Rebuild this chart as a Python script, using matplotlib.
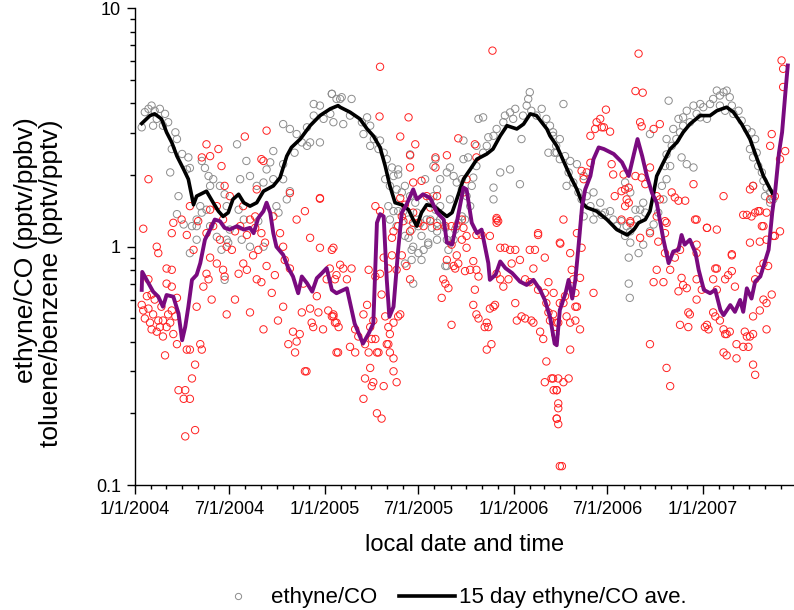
import numpy as np
import pandas as pd
import matplotlib
matplotlib.use("Agg")
import matplotlib.pyplot as plt
import matplotlib.dates as mdates
from matplotlib.ticker import FixedLocator, FuncFormatter, NullFormatter, LogLocator
from matplotlib.lines import Line2D

plt.rcParams['font.family'] = ['Liberation Sans', 'DejaVu Sans']

START = "2004-01-01"

# 15 day ethyne/CO average: (days since START, ratio)
ethyne_avg = [
    (13, 3.29), (29, 3.55), (38, 3.61), (51, 3.44), (61, 3.02), (71, 2.74), (81, 2.40), (94, 2.11),
    (103, 1.92), (113, 1.50), (119, 1.63), (138, 1.71), (151, 1.53), (161, 1.41), (170, 1.34),
    (180, 1.39), (189, 1.58), (200, 1.66), (210, 1.53), (222, 1.48), (235, 1.53), (248, 1.71),
    (267, 1.80), (280, 1.95), (293, 2.40), (302, 2.61), (319, 2.83), (338, 3.22), (357, 3.55),
    (377, 3.79), (392, 3.91), (396, 3.85), (415, 3.67), (434, 3.44), (448, 3.12), (460, 2.92),
    (473, 2.61), (483, 2.18), (492, 1.80), (502, 1.53), (515, 1.50), (528, 1.43), (537, 1.30),
    (544, 1.22), (553, 1.39), (563, 1.50), (576, 1.48), (589, 1.41), (602, 1.34), (612, 1.39),
    (621, 1.58), (634, 1.92), (647, 2.11), (660, 2.33), (679, 2.45), (691, 2.57), (705, 2.92),
    (718, 3.22), (737, 3.12), (750, 3.27), (763, 3.61), (775, 3.55), (795, 3.12), (801, 2.92),
    (814, 2.65), (820, 2.48), (840, 1.98), (853, 1.74), (863, 1.53), (872, 1.46), (891, 1.41),
    (911, 1.30), (930, 1.18), (950, 1.12), (963, 1.18), (972, 1.26), (985, 1.30), (994, 1.41),
    (1001, 1.68), (1007, 1.98), (1020, 2.26), (1033, 2.57), (1046, 2.74), (1058, 3.02),
    (1071, 3.27), (1091, 3.55), (1110, 3.55), (1123, 3.72), (1142, 3.85), (1155, 3.67),
    (1171, 3.27), (1187, 2.83), (1201, 2.33), (1213, 1.98), (1230, 1.68),
]

# 15 day toluene/benzene average (purple)
toluene_avg = [
    (13, 0.659), (14, 0.784), (26, 0.703), (35, 0.648), (45, 0.617), (54, 0.560), (61, 0.627),
    (74, 0.617), (84, 0.525), (91, 0.405), (97, 0.461), (103, 0.560), (110, 0.726), (119, 0.762),
    (126, 0.853), (135, 1.07), (145, 1.18), (154, 1.30), (164, 1.28), (173, 1.20), (183, 1.18),
    (197, 1.22), (210, 1.18), (222, 1.20), (229, 1.14), (238, 1.32), (248, 1.41), (254, 1.53),
    (261, 1.39), (267, 1.14), (273, 1.00), (286, 0.925), (296, 0.813), (305, 0.75), (315, 0.638),
    (322, 0.75), (332, 0.703), (342, 0.648), (351, 0.738), (361, 0.775), (370, 0.813),
    (380, 0.659), (389, 0.638), (409, 0.669), (424, 0.476), (440, 0.392), (451, 0.432),
    (460, 0.476), (467, 1.26), (473, 1.37), (480, 1.34), (486, 0.726), (491, 0.508), (499, 0.560),
    (508, 0.971), (515, 1.39), (524, 1.50), (537, 1.74), (544, 1.58), (556, 1.66), (570, 1.60),
    (583, 1.39), (596, 1.30), (602, 1.04), (612, 1.02), (621, 1.26), (634, 1.77), (640, 1.74),
    (650, 1.26), (660, 1.14), (669, 1.18), (682, 0.853), (685, 0.726), (696, 0.762), (705, 0.867),
    (715, 0.813), (728, 0.775), (743, 0.714), (756, 0.691), (769, 0.726), (782, 0.659),
    (791, 0.598), (801, 0.508), (810, 0.392), (814, 0.386), (820, 0.542), (831, 0.638),
    (837, 0.726), (844, 0.606), (850, 0.726), (856, 1.00), (863, 1.48), (869, 1.74), (879, 1.98),
    (885, 2.33), (895, 2.61), (905, 2.57), (924, 2.45), (940, 2.26), (953, 1.98), (963, 2.45),
    (970, 2.83), (979, 2.40), (988, 1.98), (998, 1.68), (1007, 1.53), (1020, 1.07), (1030, 0.853),
    (1039, 0.955), (1049, 0.971), (1055, 1.12), (1061, 1.02), (1071, 1.07), (1082, 0.94),
    (1088, 0.80), (1098, 0.659), (1110, 0.638), (1120, 0.659), (1130, 0.542), (1136, 0.516),
    (1149, 0.569), (1158, 0.533), (1168, 0.598), (1174, 0.533), (1181, 0.669), (1190, 0.606),
    (1197, 0.714), (1207, 0.75), (1214, 0.84), (1223, 0.971), (1230, 1.39), (1236, 1.74),
    (1243, 2.48), (1249, 3.02), (1256, 4.60), (1260, 5.76),
]

# individual ethyne/CO ratios (gray circles)
ethyne_pts = [
    (13, 3.17), (19, 3.67), (26, 3.79), (32, 3.91), (38, 3.72), (48, 3.79), (58, 3.61), (64, 3.33),
    (54, 3.22), (35, 3.22), (42, 3.44), (78, 3.02), (81, 2.83), (71, 2.57), (91, 2.45), (103, 2.37),
    (100, 2.11), (106, 2.14), (129, 2.29), (135, 2.14), (142, 1.98), (68, 2.05), (84, 1.63),
    (81, 1.37), (94, 1.24), (110, 1.22), (106, 0.94), (145, 1.80), (126, 1.48), (138, 1.43),
    (151, 1.92), (164, 1.80), (173, 1.66), (177, 1.48), (197, 2.69), (215, 2.29), (203, 1.92),
    (222, 1.98), (235, 1.80), (248, 1.86), (254, 2.11), (261, 2.26), (267, 1.92), (286, 1.92),
    (267, 2.52), (286, 3.27), (299, 3.12), (312, 2.97), (322, 2.74), (332, 2.65), (308, 2.48),
    (332, 3.17), (345, 3.55), (345, 3.97), (357, 3.91), (364, 3.44), (380, 4.38), (396, 4.17),
    (338, 2.74), (357, 2.74), (286, 2.22), (299, 1.71), (273, 1.48), (238, 1.28), (248, 1.00),
    (222, 1.00), (206, 1.07), (183, 1.18), (180, 1.04), (167, 0.971), (173, 0.726), (158, 1.10),
    (145, 1.22), (129, 1.39), (119, 1.30), (119, 1.07), (200, 1.43), (210, 1.30), (293, 1.58),
    (277, 1.39), (177, 1.07), (119, 1.22),
    (380, 4.38), (389, 4.17), (399, 4.24), (418, 4.17), (377, 3.61), (383, 3.33), (402, 3.27),
    (415, 3.55), (438, 3.33), (448, 3.49), (454, 3.22), (441, 2.97), (461, 2.83), (473, 2.79),
    (470, 2.57), (454, 2.65), (480, 2.48), (486, 2.33), (496, 2.15), (508, 2.11), (499, 1.98),
    (483, 1.92), (492, 1.80), (505, 1.74), (515, 1.69), (489, 1.48), (499, 1.41), (508, 1.41),
    (492, 1.30), (505, 1.22), (528, 1.30), (521, 1.11), (534, 1.18), (547, 1.22), (553, 1.11),
    (537, 1.00), (547, 0.94), (534, 0.88), (521, 0.85), (557, 0.97), (566, 1.02), (537, 0.70),
    (563, 1.30), (580, 1.43), (589, 1.30), (573, 1.20), (583, 1.16), (599, 1.20), (602, 1.07),
    (605, 0.97), (599, 0.83), (615, 1.07), (618, 1.18), (624, 1.26), (631, 1.34), (637, 1.30),
    (647, 1.48), (640, 1.63), (631, 1.74), (621, 1.86), (615, 1.98), (608, 2.15), (602, 2.05),
    (589, 1.92), (583, 1.74), (576, 1.63), (570, 1.58), (560, 1.92), (576, 2.18), (580, 2.33),
    (531, 2.44), (508, 2.01), (521, 1.80), (531, 1.63), (541, 1.53), (544, 1.39), (518, 1.41),
    (650, 1.80), (653, 1.95), (659, 2.18), (672, 2.48), (679, 2.65), (682, 2.88), (692, 2.92),
    (698, 3.12), (692, 1.77), (705, 2.05), (724, 2.11), (743, 1.83), (711, 3.33), (714, 3.55),
    (724, 3.66), (734, 3.79), (730, 3.44), (746, 2.83), (749, 3.55), (756, 3.91), (759, 4.17),
    (762, 4.45), (765, 3.72), (775, 3.55), (785, 3.79), (794, 3.44), (801, 3.22), (807, 2.92),
    (813, 2.65), (798, 2.48), (810, 2.48), (820, 2.33), (663, 3.44), (672, 3.49), (634, 2.79),
    (659, 2.65), (643, 2.37), (634, 2.33), (631, 1.92), (608, 1.58), (589, 1.48), (583, 1.26),
    (583, 1.07), (570, 1.30), (551, 1.26), (602, 0.83), (528, 1.09), (534, 0.97), (553, 0.88),
    (566, 1.04), (692, 1.58),
    (807, 3.02), (820, 2.83), (827, 3.97), (814, 2.48), (830, 2.40), (840, 2.29), (853, 2.22),
    (837, 2.05), (846, 1.86), (866, 1.98), (833, 1.80), (856, 1.69), (862, 1.58), (872, 1.63),
    (885, 1.69), (879, 1.48), (891, 1.39), (901, 1.36), (885, 1.30), (866, 1.34), (898, 1.53),
    (907, 1.39), (917, 1.41), (923, 1.30), (930, 1.22), (939, 1.28), (949, 1.22), (946, 1.11),
    (956, 1.16), (962, 1.22), (969, 1.30), (975, 1.43), (985, 1.39), (966, 1.43), (981, 1.53),
    (956, 1.04), (953, 0.90), (972, 0.94), (981, 1.02), (994, 1.16), (1001, 1.24), (1010, 1.39),
    (1020, 1.58), (1017, 1.80), (1026, 1.92), (1023, 2.18), (1033, 2.18), (1026, 2.44),
    (1036, 2.65), (1045, 2.83), (1052, 3.02), (1039, 3.12), (1049, 3.44), (1058, 3.49),
    (1065, 3.72), (1058, 3.22), (1071, 3.33), (1084, 3.61), (1091, 3.97), (1097, 3.85),
    (1110, 3.97), (1116, 4.17), (1123, 4.52), (1129, 4.31), (1136, 4.45), (1142, 4.52),
    (1148, 4.24), (1129, 3.91), (1139, 3.72), (1152, 3.91), (1155, 3.61), (1165, 3.72),
    (1171, 3.38), (1181, 3.12), (1190, 3.02), (1197, 2.83), (1187, 2.57), (1200, 2.48),
    (1193, 2.37), (1203, 2.18), (1210, 2.05), (1213, 1.89), (1219, 1.77), (1226, 1.69),
    (1216, 1.63), (1226, 1.53), (1232, 1.58), (1193, 1.80), (1065, 2.22), (1078, 2.15),
    (1055, 2.37), (946, 1.86), (956, 1.69), (953, 0.70), (955, 0.61), (1030, 4.10), (1078, 3.91),
    (1091, 3.49), (1104, 3.44), (1026, 2.83), (994, 2.97),
]

# individual toluene/benzene ratios (red circles)
toluene_pts = [
    (16, 1.19), (26, 0.73), (13, 0.57), (16, 0.54), (19, 0.50), (23, 0.62), (32, 0.63), (29, 0.48),
    (32, 0.45), (42, 0.44), (48, 0.46), (45, 0.49), (35, 0.52), (26, 0.55), (38, 0.60), (51, 0.56),
    (54, 0.49), (61, 0.46), (54, 0.42), (58, 0.35), (68, 0.48), (64, 0.52), (71, 0.54), (74, 0.43),
    (81, 0.39), (78, 0.51), (71, 0.68), (61, 0.70), (42, 1.00), (45, 0.94), (61, 0.81), (71, 0.80),
    (81, 0.61), (84, 0.25), (94, 0.23), (97, 0.25), (106, 0.23), (116, 0.17), (97, 0.16),
    (110, 0.28), (116, 0.32), (100, 0.37), (106, 0.37), (126, 0.39), (129, 0.37), (119, 0.56),
    (132, 0.68), (142, 0.73), (138, 0.77), (145, 0.90), (148, 0.60), (158, 0.85), (170, 0.80),
    (173, 0.75), (177, 0.52), (193, 0.60), (200, 0.77), (209, 0.85), (216, 0.80), (222, 0.53),
    (228, 0.92), (235, 0.73), (244, 0.71), (248, 0.45), (254, 0.83), (264, 0.64), (270, 0.76),
    (276, 0.49), (286, 0.56), (296, 0.39), (305, 0.44), (312, 0.40), (318, 0.43), (309, 0.36),
    (322, 0.53), (325, 0.70), (331, 0.30), (328, 0.30), (338, 0.55), (341, 0.48), (344, 0.46),
    (354, 0.53), (363, 0.45), (373, 0.54), (383, 0.51), (389, 0.48), (392, 0.36), (380, 0.97),
    (357, 0.99), (338, 1.09), (312, 1.30), (299, 1.68), (328, 1.41), (357, 1.59), (376, 0.81),
    (351, 0.62), (370, 0.73), (299, 0.81), (289, 0.88), (280, 1.14), (267, 1.34), (286, 1.00),
    (238, 0.97), (244, 1.14), (251, 1.04), (232, 1.20), (216, 1.12), (222, 1.30), (203, 1.22),
    (193, 1.16), (187, 0.97), (177, 1.00), (164, 1.07), (151, 1.22), (138, 1.14), (122, 1.28),
    (113, 0.97), (100, 1.12), (71, 1.14), (74, 1.26), (106, 1.48), (90, 1.30), (145, 1.43),
    (158, 1.48), (170, 1.30), (209, 1.48), (232, 1.34),
    (138, 2.69), (161, 2.57), (212, 2.90), (254, 3.07), (248, 2.29), (145, 2.40), (129, 2.37),
    (167, 2.18), (357, 1.60), (26, 1.92), (183, 1.63), (173, 1.80), (235, 1.74), (244, 2.33),
    (383, 0.99), (396, 0.84), (389, 0.76), (402, 0.81), (418, 0.81), (409, 0.73), (386, 0.73),
    (383, 0.52), (386, 0.48), (380, 0.51), (393, 0.46), (441, 0.52), (425, 0.45), (431, 0.42),
    (415, 0.38), (425, 0.36), (389, 0.36), (444, 0.39), (451, 0.36), (467, 0.36), (470, 0.36),
    (457, 0.41), (464, 0.41), (454, 0.46), (460, 0.49), (448, 0.57), (451, 0.80), (464, 0.75),
    (473, 0.77), (476, 0.63), (483, 0.51), (489, 0.46), (492, 0.43), (499, 0.48), (508, 0.51),
    (512, 0.52), (486, 0.39), (489, 0.39), (492, 0.36), (499, 0.34), (454, 0.31), (444, 0.28),
    (460, 0.27), (457, 0.26), (480, 0.26), (499, 0.30), (505, 0.27), (441, 0.23), (467, 0.20),
    (476, 0.19), (480, 0.90), (489, 0.81), (496, 0.92), (505, 0.80), (515, 0.92), (524, 0.83),
    (531, 0.73), (496, 1.09), (499, 1.16), (508, 1.22), (518, 1.28), (531, 1.16), (537, 1.26),
    (547, 1.26), (557, 1.22), (570, 1.28), (583, 1.22), (599, 1.22), (611, 1.22), (621, 1.22),
    (631, 1.07), (640, 1.11), (640, 0.99), (621, 0.92), (624, 0.85), (615, 0.83), (602, 0.88),
    (595, 0.73), (599, 0.70), (605, 0.67), (592, 0.61), (611, 0.47), (618, 0.81), (637, 0.79),
    (647, 0.80), (653, 0.87), (659, 0.80), (663, 0.75), (656, 0.66), (653, 0.57), (659, 0.52),
    (663, 0.50), (679, 0.48), (682, 0.46), (675, 0.46), (688, 0.39), (679, 0.37), (685, 0.55),
    (695, 0.57), (692, 0.56), (698, 0.77), (705, 0.73), (711, 0.68), (721, 0.73), (727, 0.85),
    (734, 0.97), (743, 0.88), (753, 0.73), (762, 0.71), (769, 0.81), (778, 0.66), (791, 0.64),
    (794, 0.58), (798, 0.53), (801, 0.49), (807, 0.52), (814, 0.48), (820, 0.58), (762, 0.97),
    (772, 0.97), (778, 1.14), (791, 0.90), (798, 0.71), (788, 0.41), (794, 0.33), (791, 0.27),
    (807, 0.28), (814, 0.25), (817, 0.21), (814, 0.19), (817, 0.18), (820, 0.12), (737, 0.49),
    (746, 0.51), (753, 0.50), (769, 0.48), (765, 0.49), (782, 0.44), (734, 0.58), (611, 1.02),
    (631, 1.30), (634, 1.20), (659, 1.12), (669, 1.12), (685, 1.11), (698, 1.30), (701, 1.28),
    (705, 0.99), (714, 0.99), (724, 0.97),
    (472, 3.52), (528, 3.49), (512, 2.90), (541, 2.69), (531, 2.42), (531, 2.15), (537, 1.86),
    (553, 1.89), (580, 2.37), (580, 2.15), (602, 2.42), (624, 2.85), (656, 2.69), (659, 2.37),
    (640, 1.92), (634, 1.69), (512, 1.60), (521, 1.50), (515, 1.34), (537, 1.39), (563, 1.63),
    (583, 1.63), (570, 1.46), (698, 1.32), (698, 1.26), (778, 1.12), (820, 1.04), (464, 1.48),
    (473, 1.41), (690, 6.65), (473, 5.69),
    (972, 6.46), (966, 4.50), (980, 4.43), (909, 3.76), (898, 3.44), (891, 3.33), (901, 3.17),
    (888, 3.12), (879, 2.92), (917, 3.04), (905, 3.17), (920, 2.22), (975, 3.33), (978, 3.20),
    (1001, 3.12), (1013, 3.27), (879, 2.25), (862, 2.08), (866, 1.92), (872, 2.05), (923, 2.01),
    (943, 2.01), (939, 1.71), (953, 1.77), (953, 1.53), (946, 1.48), (956, 1.28), (966, 1.98),
    (978, 1.95), (985, 1.83), (994, 2.15), (1007, 1.63), (1013, 1.58), (1023, 1.28), (1023, 1.14),
    (1036, 1.69), (1042, 1.61), (1049, 1.56), (1062, 1.56), (1078, 1.83), (1084, 1.30),
    (1104, 1.20), (1123, 1.18), (1136, 1.63), (1152, 0.93), (1181, 1.36), (1187, 1.74),
    (1197, 1.39), (1203, 1.41), (1210, 1.22), (1229, 2.97), (1226, 2.65), (1248, 6.05),
    (1251, 5.58), (1251, 4.68), (1255, 2.52), (1245, 2.33), (1235, 1.63), (1245, 1.16),
    (1232, 1.11), (1219, 1.07), (1226, 1.58),
    (827, 1.30), (821, 1.03), (840, 0.94), (853, 1.14), (862, 0.99), (843, 0.80), (859, 0.74),
    (846, 0.73), (850, 0.64), (830, 0.62), (808, 0.64), (827, 0.58), (817, 0.48), (811, 0.43),
    (833, 0.51), (840, 0.48), (850, 0.49), (859, 0.45), (850, 0.56), (853, 0.56), (840, 0.37),
    (885, 0.64), (804, 0.28), (817, 0.28), (827, 0.27), (837, 0.28), (808, 0.25), (814, 0.25),
    (817, 0.22), (814, 0.19), (824, 0.12), (994, 0.39), (1026, 0.31), (1033, 0.26), (926, 1.63),
    (946, 1.74), (939, 1.30), (956, 1.26), (949, 1.58), (975, 1.09), (994, 1.14), (1010, 1.05),
    (1020, 0.71), (1001, 0.71), (1007, 0.80), (1023, 0.94), (1052, 0.97), (1042, 0.90),
    (1033, 0.80), (1049, 0.65), (1058, 0.69), (1065, 0.67), (1055, 0.74), (1068, 0.53),
    (1071, 0.52), (1052, 0.47), (1068, 0.46), (1084, 0.60), (1094, 0.66), (1084, 0.73),
    (1116, 0.73), (1123, 0.66), (1139, 0.73), (1145, 0.76), (1152, 0.92), (1158, 0.68),
    (1123, 0.81), (1116, 0.53), (1120, 0.51), (1129, 0.49), (1136, 0.45), (1142, 0.43),
    (1148, 0.44), (1139, 0.43), (1100, 0.46), (1104, 0.47), (1107, 0.45), (1161, 0.39),
    (1174, 0.38), (1184, 0.38), (1187, 0.42), (1193, 0.43), (1181, 0.42), (1193, 0.51),
    (1206, 0.54), (1213, 0.60), (1219, 0.58), (1229, 0.63), (1219, 0.45), (1193, 0.32),
    (1197, 0.29), (1161, 0.34), (1136, 0.36), (1142, 0.35), (1177, 0.44), (1197, 0.73),
    (1206, 0.80), (1213, 0.85), (1222, 0.83), (1187, 1.04), (1206, 1.05), (1213, 1.22),
    (1219, 1.39), (1235, 1.11), (1104, 1.20), (1081, 1.30), (1084, 1.02), (1084, 0.94),
    (1026, 1.26), (1007, 1.34), (1190, 1.34), (1206, 1.41), (1174, 1.36), (1193, 1.80),
    (1152, 0.79), (1120, 0.81),
]

x_tick_dates = ["2004-01-01", "2004-07-01", "2005-01-01", "2005-07-01",
                "2006-01-01", "2006-07-01", "2007-01-01"]
y_ticks = [0.1, 1, 10]
y_tick_labels = ["0.1", "1", "10"]


def to_dates(pairs):
    d = np.array([p[0] for p in pairs])
    v = np.array([p[1] for p in pairs])
    return pd.to_datetime(START) + pd.to_timedelta(d, unit="D"), v


fig = plt.figure(figsize=(7.94, 6.10), dpi=100)
ax = fig.add_axes([0.170, 0.2049, 0.830, 0.7813])

gx, gy = to_dates(ethyne_pts)
rx, ry = to_dates(toluene_pts)
bx, by = to_dates(ethyne_avg)
px, py = to_dates(toluene_avg)

ax.scatter(gx, gy, s=28, facecolors="none", edgecolors="#8c8c8c", linewidths=0.7, zorder=2)
ax.scatter(rx, ry, s=28, facecolors="none", edgecolors="#ff2020", linewidths=0.7, zorder=3)
ax.plot(bx, by, color="black", lw=2.6, zorder=4, solid_joinstyle="round")
ax.plot(px, py, color="#7a0a7f", lw=2.8, zorder=5, solid_joinstyle="round")

ax.set_yscale("log")
ax.set_ylim(0.1, 10)
ax.set_xlim(pd.Timestamp("2004-01-01"), pd.Timestamp("2007-06-26"))

ax.yaxis.set_major_locator(FixedLocator(y_ticks))
ax.yaxis.set_major_formatter(FuncFormatter(lambda v, p: y_tick_labels[y_ticks.index(v)] if v in y_ticks else ""))
ax.yaxis.set_minor_locator(LogLocator(base=10, subs=np.arange(2, 10)))
ax.yaxis.set_minor_formatter(NullFormatter())

ax.xaxis.set_major_locator(FixedLocator(mdates.date2num(pd.to_datetime(x_tick_dates))))
ax.xaxis.set_major_formatter(FuncFormatter(
    lambda v, p: "{}/{}/{}".format(mdates.num2date(v).month, mdates.num2date(v).day, mdates.num2date(v).year)))
ax.xaxis.set_minor_locator(mdates.MonthLocator())

for s in ["top", "right"]:
    ax.spines[s].set_visible(False)
for s in ["left", "bottom"]:
    ax.spines[s].set_linewidth(1.0)

ax.tick_params(axis="y", which="major", direction="out", length=6, width=1.0, labelsize=13, pad=4)
ax.tick_params(axis="y", which="minor", direction="out", length=3.5, width=1.0)
ax.tick_params(axis="x", which="major", direction="out", length=6.5, width=1.0, labelsize=13, pad=5)
ax.tick_params(axis="x", which="minor", direction="out", length=3.2, width=1.0)

fig.text(465 / 794, 1 - 545 / 610, "local date and time", ha="center", va="center", fontsize=17)
fig.text(26 / 794, 1 - 250 / 610, "ethyne/CO (pptv/ppbv)", rotation=90, ha="center", va="center", fontsize=19)
fig.text(51 / 794, 1 - 283 / 610, "toluene/benzene (pptv/pptv)", rotation=90, ha="center", va="center", fontsize=19)

handles = [
    Line2D([], [], marker="o", markersize=4.5, markerfacecolor="none", markeredgecolor="#8c8c8c",
           markeredgewidth=0.7, linestyle="none"),
    Line2D([], [], color="black", lw=2.6),
]
fig.legend(handles, ["ethyne/CO", "15 day ethyne/CO ave."], loc="center",
           bbox_to_anchor=(0.565, 1 - 598 / 610), ncol=2, frameon=False, fontsize=16,
           handlelength=2.5, handletextpad=0.2, columnspacing=1.0, borderpad=0)

fig.savefig("out.png", dpi=100)
